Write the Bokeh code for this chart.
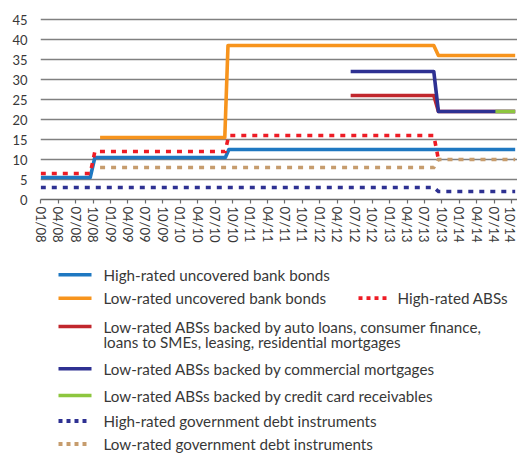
from bokeh.plotting import figure
from bokeh.models import Range1d, FixedTicker
from bokeh.layouts import column
from bokeh.embed import file_html
from bokeh.resources import INLINE
from bokeh.core.properties import value

# ---- data (x = months since 01/2008) ----
tick_months = list(range(0, 82, 3))
tick_labels = ["01/08", "04/08", "07/08", "10/08", "01/09", "04/09", "07/09", "10/09",
               "01/10", "04/10", "07/10", "10/10", "01/11", "04/11", "07/11", "10/11",
               "01/12", "04/12", "07/12", "10/12", "01/13", "04/13", "07/13", "10/13",
               "01/14", "04/14", "07/14", "10/14"]
y_ticks = [0, 5, 10, 15, 20, 25, 30, 35, 40, 45]

hi_bank_x = [0, 8.5, 9.3, 31.75, 32.35, 81.6]
hi_bank_y = [5.5, 5.5, 10.5, 10.5, 12.5, 12.5]

lo_bank_x = [10.2, 31.65, 32.2, 67.6, 68.4, 81.6]
lo_bank_y = [15.5, 15.5, 38.5, 38.5, 36, 36]

hi_abs_x = [0, 8.5, 9.3, 31.7, 32.35, 67.6, 68.4]
hi_abs_y = [6.5, 6.5, 12, 12, 16, 16, 10]

lo_abs_auto_x = [53.3, 67.6, 68.4, 81.6]
lo_abs_auto_y = [26, 26, 22, 22]

lo_abs_cmbs_x = [53.3, 67.6, 68.4, 81.6]
lo_abs_cmbs_y = [32, 32, 22, 22]

lo_abs_card_x = [78.2, 81.6]
lo_abs_card_y = [22, 22]

hi_gov_x = [0, 67.6, 68.4, 81.6]
hi_gov_y = [3, 3, 2, 2]

lo_gov_x = [10.2, 67.6, 68.4, 81.6]
lo_gov_y = [8, 8, 10, 10]

labels = [
    "High-rated uncovered bank bonds",
    "Low-rated uncovered bank bonds",
    "High-rated ABSs",
    "Low-rated ABSs backed by auto loans, consumer finance,",
    "Low-rated ABSs backed by commercial mortgages",
    "Low-rated ABSs backed by credit card receivables",
    "High-rated government debt instruments",
    "Low-rated government debt instruments",
]
label_cont = "loans to SMEs, leasing, residential mortgages"

# ---- styles ----
colors = ["#1f78c1", "#f7941d", "#ee1c25", "#c1272d", "#2e3192", "#8dc63f", "#2e3192", "#c69c6d"]
dashes = ["solid", "solid", "5 6", "solid", "solid", "solid", "5 6", "5 6"]
xs = [hi_bank_x, lo_bank_x, hi_abs_x, lo_abs_auto_x, lo_abs_cmbs_x, lo_abs_card_x, hi_gov_x, lo_gov_x]
ys = [hi_bank_y, lo_bank_y, hi_abs_y, lo_abs_auto_y, lo_abs_cmbs_y, lo_abs_card_y, hi_gov_y, lo_gov_y]

FONT = "Lato"
TXT = "#383838"
W = 517
LEFT = 40
MAIN_H = 246
TOTAL_H = 454

p = figure(width=W, height=MAIN_H, x_range=Range1d(-0.05, 82.0), y_range=Range1d(0, 45.5),
           output_backend="svg", toolbar_location=None,
           min_border_left=LEFT, min_border_right=0, min_border_top=17, min_border_bottom=47)
p.outline_line_color = None
p.background_fill_color = "white"
p.border_fill_color = "white"

p.xgrid.visible = False
p.ygrid.ticker = FixedTicker(ticks=y_ticks[1:])
p.ygrid.grid_line_color = "#808080"
p.ygrid.grid_line_width = 1.3

p.yaxis.ticker = FixedTicker(ticks=y_ticks)
p.yaxis.axis_line_color = None
p.yaxis.major_tick_line_color = None
p.yaxis.minor_tick_line_color = None
p.yaxis.major_label_standoff = 7

p.xaxis.ticker = FixedTicker(ticks=tick_months)
p.xaxis.major_label_overrides = {m: l for m, l in zip(tick_months, tick_labels)}
p.xaxis.major_label_orientation = "vertical"
p.xaxis.axis_line_color = "#6a6a6a"
p.xaxis.axis_line_width = 1.3
p.xaxis.major_tick_line_color = "#6a6a6a"
p.xaxis.major_tick_line_width = 1.2
p.xaxis.major_tick_out = 4
p.xaxis.major_tick_in = 0
p.xaxis.minor_tick_line_color = None
p.xaxis.major_label_standoff = 3

for ax in (p.xaxis, p.yaxis):
    ax.major_label_text_font = FONT
    ax.major_label_text_font_size = "13px"
    ax.major_label_text_color = TXT

for x, y, c, d in zip(xs, ys, colors, dashes):
    p.line(x, y, line_color=c, line_width=3.6, line_dash=d,
           line_join="round" if d == "solid" else "miter")

# ---- legend (separate panel, page-pixel coordinates) ----
leg = figure(width=W, height=TOTAL_H - MAIN_H, x_range=Range1d(LEFT, W),
             y_range=Range1d(TOTAL_H, MAIN_H),
             output_backend="svg", toolbar_location=None, x_axis_type=None, y_axis_type=None,
             min_border_left=LEFT, min_border_right=0, min_border_top=0, min_border_bottom=0)
leg.outline_line_color = None
leg.xgrid.visible = False
leg.ygrid.visible = False

# (x of symbol start, row y) for each entry
leg_pos = [(58, 274.3), (58, 297.7), (358, 297.7), (58, 326), (58, 368.3), (58, 395), (58, 420.5), (58, 443.5)]
sym_len = 33
for (lx, ly), c, d in zip(leg_pos, colors, dashes):
    leg.segment(x0=[lx], y0=[ly], x1=[lx + sym_len - (4 if d != "solid" else 0)], y1=[ly],
                line_color=c, line_width=3.6 if d == "solid" else 3.8,
                line_dash="solid" if d == "solid" else "4 4")

tx = [lx + 45 if i != 2 else lx + 39 for i, (lx, ly) in enumerate(leg_pos)] + [103]
ty = [ly for (lx, ly) in leg_pos] + [341.7]
leg.text(x=tx, y=ty, text=labels + [label_cont], text_font=value(FONT), text_font_size="15.2px",
         text_baseline="middle", text_align="left", text_color=TXT)

layout = column(p, leg, spacing=0)
open("out.html", "w").write(file_html(layout, INLINE))
